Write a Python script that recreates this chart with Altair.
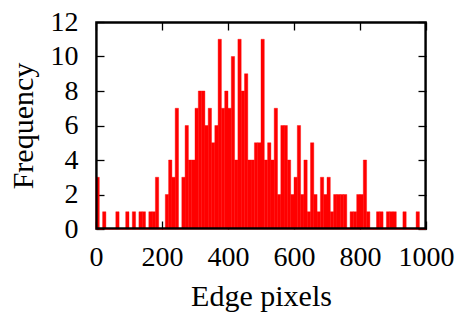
import altair as alt
import pandas as pd

# Histogram of edge pixels: bin width 10, bins from 0 to 1000
bin_width = 10
bin_lefts = list(range(0, 1000, bin_width))
counts = [
    3, 0, 1, 0, 0, 0, 1, 0, 0, 1,      # 0-99
    0, 1, 0, 1, 1, 0, 1, 1, 3, 0,      # 100-199
    0, 2, 4, 3, 7, 0, 3, 6, 4, 4,      # 200-299
    7, 8, 8, 6, 7, 5, 6, 11, 7, 8,     # 300-399
    7, 10, 4, 11, 8, 9, 4, 4, 5, 5,    # 400-499
    11, 4, 5, 4, 7, 2, 6, 6, 4, 2,     # 500-599
    3, 6, 2, 4, 1, 5, 2, 1, 3, 2,      # 600-699
    3, 1, 2, 2, 2, 2, 0, 1, 1, 2,      # 700-799
    2, 4, 1, 0, 0, 1, 1, 0, 1, 1,      # 800-899
    1, 0, 0, 1, 0, 0, 0, 1, 0, 0,      # 900-999
]
x_ticks = [0, 200, 400, 600, 800, 1000]
y_ticks = [0, 2, 4, 6, 8, 10, 12]
x_range = [0, 1000]
y_range = [0, 12]

df = pd.DataFrame({
    "start": bin_lefts,
    "end": [b + bin_width for b in bin_lefts],
    "count": counts,
})

FONT = "'Liberation Serif', 'DejaVu Serif', serif"

x_scale = alt.Scale(domain=x_range, nice=False, zero=False)
y_scale = alt.Scale(domain=y_range, nice=False)

tick_axis = dict(
    domain=False, ticks=True, tickSize=8, tickColor="black", tickWidth=1.3,
    grid=False, offset=-8,
)

base = alt.Chart(df)

bars = base.mark_bar(color="#ff0000", stroke="#ff0000", strokeWidth=0.4).encode(
    x=alt.X("start:Q", scale=x_scale, axis=alt.Axis(
        orient="bottom", values=x_ticks, title="Edge pixels", format="d",
        labelFont=FONT, labelFontSize=28, labelColor="black",
        labelPadding=14, labelFlush=False, labelOverlap=False, labelBound=False,
        titleFont=FONT, titleFontSize=30, titleFontWeight="normal", titleColor="black",
        titleBaseline="alphabetic", titleY=84, titleX=165, titleAlign="center",
        **tick_axis)),
    x2="end:Q",
    y=alt.Y("count:Q", scale=y_scale, axis=alt.Axis(
        orient="left", values=y_ticks, title="Frequency", format="d",
        labelFont=FONT, labelFontSize=28, labelColor="black",
        labelPadding=18, labelFlush=False, labelOverlap=False, labelBound=False,
        titleFont=FONT, titleFontSize=30, titleFontWeight="normal", titleColor="black",
        titleAngle=270, titleBaseline="alphabetic", titleAlign="center",
        titleX=-72, titleY=103.5,
        **tick_axis)),
    y2=alt.datum(0),
)

mirror = base.mark_bar(opacity=0).encode(
    x=alt.X("start:Q", scale=x_scale, axis=alt.Axis(
        orient="top", values=x_ticks, labels=False, title=None, **tick_axis)),
    x2="end:Q",
    y=alt.Y("count:Q", scale=y_scale, axis=alt.Axis(
        orient="right", values=y_ticks, labels=False, title=None, **tick_axis)),
    y2=alt.datum(0),
)

# plot frame drawn as four thin filled strips just inside the axis-range edges
fx = 5      # strip thickness in x units (~1.6 px)
fy = 0.1    # strip thickness in y units (~1.7 px)
frame_df = pd.DataFrame({
    "x":  [x_range[0], x_range[1] - fx, x_range[0], x_range[0]],
    "x2": [x_range[0] + fx, x_range[1], x_range[1], x_range[1]],
    "y":  [y_range[0], y_range[0], y_range[0], y_range[1] - fy],
    "y2": [y_range[1], y_range[1], y_range[0] + fy, y_range[1]],
})
frame = alt.Chart(frame_df).mark_bar(color="black", opacity=1).encode(
    x=alt.X("x:Q", scale=x_scale, axis=None),
    x2="x2:Q",
    y=alt.Y("y:Q", scale=y_scale, axis=None),
    y2="y2:Q",
)

chart = alt.layer(bars, mirror, frame).resolve_axis(
    x="independent", y="independent"
).properties(
    width=330, height=207,
    padding={"left": 0, "top": 0, "right": 10, "bottom": 5},
).configure_view(
    stroke="black", strokeWidth=1.6
)

chart.save("out.html", embed_options={"renderer": "svg", "actions": False})
